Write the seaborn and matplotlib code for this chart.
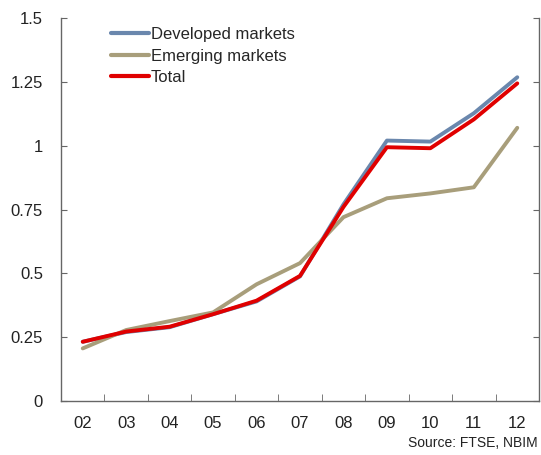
import numpy as np
import pandas as pd
import matplotlib
matplotlib.use("Agg")
import matplotlib.pyplot as plt
import seaborn as sns
from matplotlib.ticker import FixedLocator

years = ["02", "03", "04", "05", "06", "07", "08", "09", "10", "11", "12"]
developed = [0.232, 0.270, 0.289, 0.340, 0.390, 0.488, 0.770, 1.020, 1.016, 1.127, 1.268]
emerging = [0.206, 0.278, 0.313, 0.347, 0.457, 0.540, 0.720, 0.794, 0.813, 0.837, 1.070]
total = [0.232, 0.272, 0.291, 0.340, 0.393, 0.490, 0.760, 0.994, 0.990, 1.103, 1.244]

series_names = ["Developed markets", "Emerging markets", "Total"]
colors = ["#6A87AD", "#A89E7B", "#E00000"]

df = pd.DataFrame({
    "x": list(range(len(years))) * 3,
    "value": developed + emerging + total,
    "series": [s for s in series_names for _ in years],
})

sns.set_style("white")
plt.rcParams["font.family"] = ["Liberation Sans", "DejaVu Sans"]

fig = plt.figure(figsize=(5.41, 4.55), dpi=100)
ax = fig.add_axes([0.1128, 0.1187, 0.8835, 0.8417])

sns.lineplot(data=df, x="x", y="value", hue="series", hue_order=series_names,
             palette=colors, linewidth=2.8, ax=ax, sort=False)

ax.set_xlim(-0.5, len(years) - 0.5)
ax.set_ylim(0, 1.5)
ax.set_yticks([0, 0.25, 0.5, 0.75, 1, 1.25, 1.5])
ax.set_yticklabels(["0", "0.25", "0.5", "0.75", "1", "1.25", "1.5"])
ax.set_xticks(range(len(years)))
ax.set_xticklabels(years)
ax.xaxis.set_minor_locator(FixedLocator(np.arange(0.5, len(years) - 1, 1)))
ax.set_xlabel("")
ax.set_ylabel("")

spine_col = "#666666"
ax.spines["top"].set_visible(False)
for s in ["left", "right", "bottom"]:
    ax.spines[s].set_color(spine_col)
    ax.spines[s].set_linewidth(1.0)

ax.tick_params(axis="y", which="major", direction="in", length=4, color=spine_col,
               left=True, right=True, labelsize=12, pad=13, labelcolor="#222222")
ax.tick_params(axis="x", which="major", length=0, labelsize=12, pad=11,
               labelcolor="#222222")
ax.tick_params(axis="x", which="minor", direction="in", length=5, color=spine_col,
               bottom=True)

leg = ax.legend(loc="upper left", bbox_to_anchor=(0.085, 1.0), frameon=False,
                fontsize=12, handlelength=2.3, handletextpad=0.1,
                labelspacing=0.38, borderaxespad=0.15)
for line in leg.get_lines():
    line.set_linewidth(3)

fig.text(0.993, 0.012, "Source: FTSE, NBIM", ha="right", va="bottom",
         fontsize=10, color="#222222")

fig.savefig("out.png", dpi=100)
